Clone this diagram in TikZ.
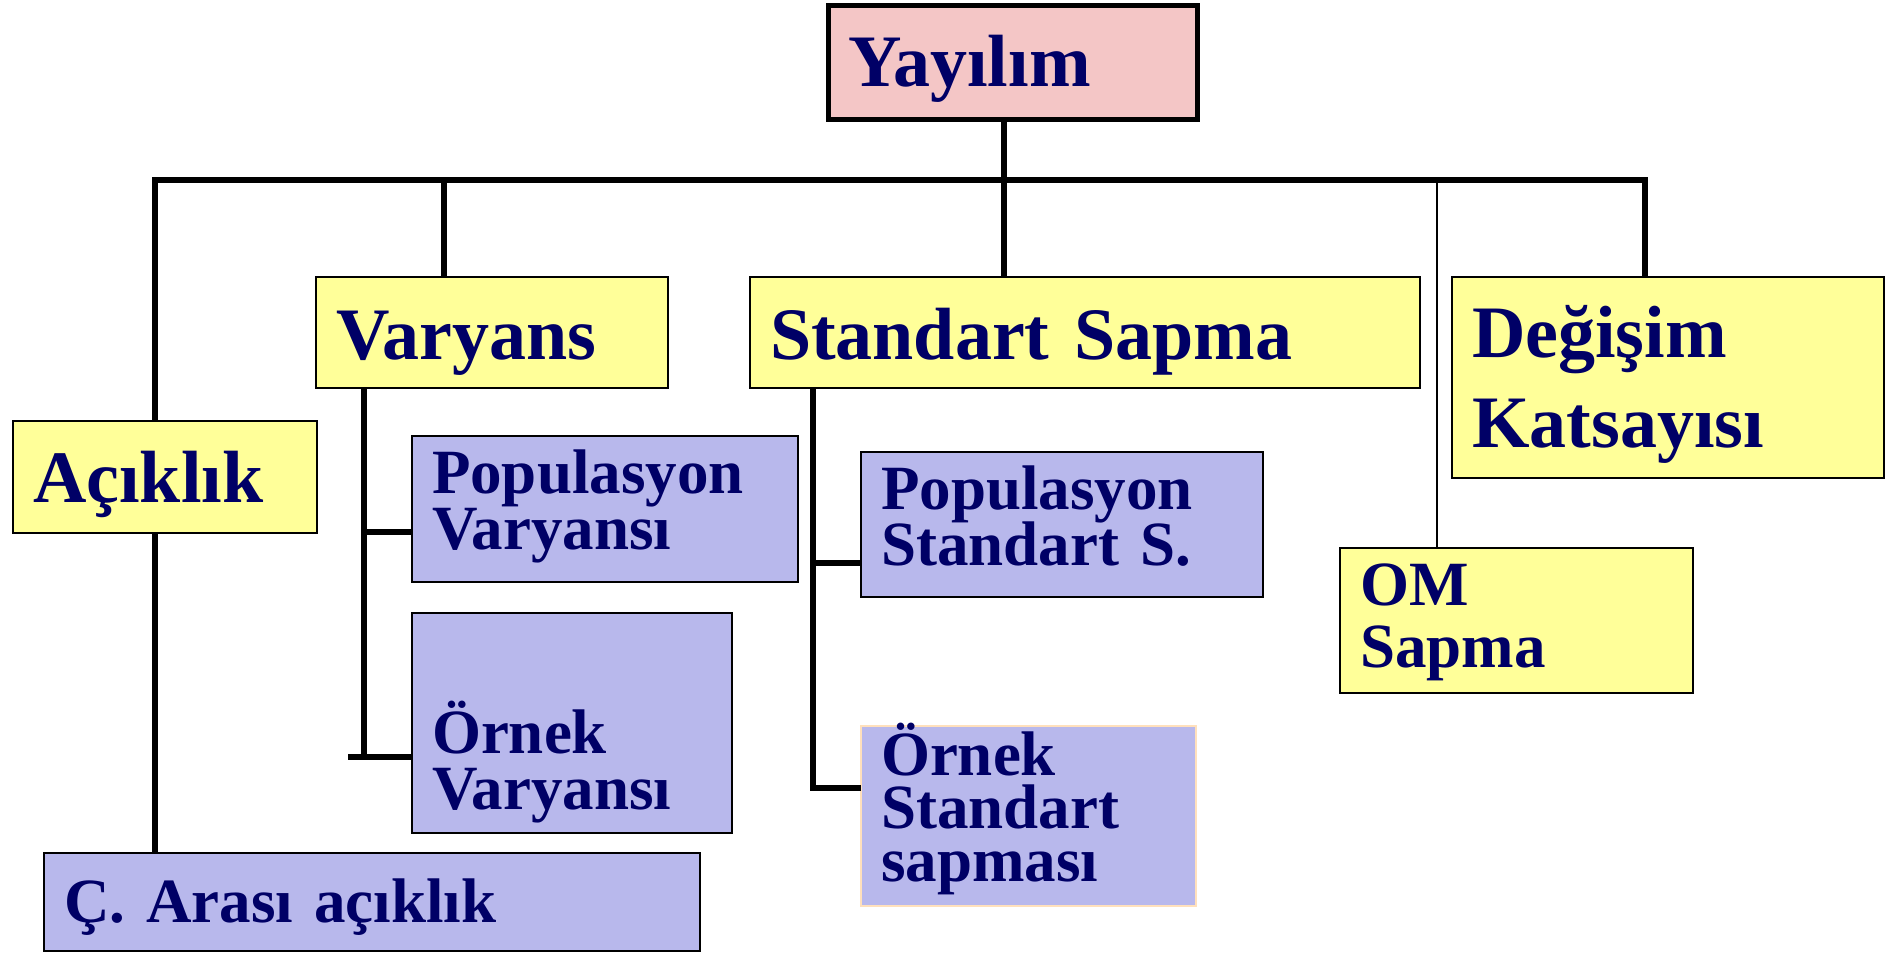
\documentclass[tikz,border=0pt]{standalone}
\usepackage{fontspec}
\setmainfont{Liberation Serif}
\usepackage{tikz}
\frenchspacing

\definecolor{navytext}{HTML}{000066}
\definecolor{pinkfill}{HTML}{F4C6C6}
\definecolor{yellowfill}{HTML}{FFFF99}
\definecolor{lilacfill}{HTML}{B8B8EC}
\definecolor{peachline}{HTML}{FFE0BC}

\newcommand{\bigtxt}{\fontsize{37}{45}\selectfont\bfseries\lineskiplimit=-50pt}
\newcommand{\smalltxt}{\fontsize{31.5}{28}\selectfont\bfseries\lineskiplimit=-50pt}

\tikzset{
  box/.style={draw, line width=1.3pt, rectangle, anchor=north west, align=left,
    inner xsep=10pt, inner ysep=0pt, outer sep=0pt, text=navytext, font=\smalltxt},
  big/.style={font=\bigtxt},
  yel/.style={box, fill=yellowfill},
  lil/.style={box, fill=lilacfill},
  trunk/.style={line width=3.2pt},
}

\begin{document}
\begin{tikzpicture}[x=0.5pt, y=-0.5pt]
\path[fill=white, use as bounding box] (0,0) rectangle (1896,953);

\node[box, big, fill=pinkfill, line width=2.5pt, text width=164.5pt, text height=40.5pt, text depth=16.5pt] (yay) at (828,5) {Yayılım};
\node[yel, big, text width=156pt, text height=41pt, text depth=14.5pt] (var) at (316,277) {Varyans};
\node[yel, big, text width=315pt, text height=41pt, text depth=14.5pt] (ss) at (750,277) {Standart Sapma};
\node[yel, big, text width=196pt, text height=40pt, text depth=60.5pt] (dk) at (1452,277) {Değişim\\Katsayısı};
\node[yel, big, text width=132pt, text height=40.5pt, text depth=15.5pt] (ack) at (13,421) {Açıklık};
\node[lil, text width=173pt, text height=28.5pt, text depth=44.5pt] (pv) at (412,436) {Populasyon\\Varyansı};
\node[lil, text width=140pt, text height=70pt, text depth=40pt] (ov) at (412,613) {Örnek\\Varyansı};
\node[lil, text width=181pt, text height=28.5pt, text depth=44pt] (ps) at (861,452) {Populasyon\\Standart S.};
\node[lil, draw=peachline, font={\fontsize{31.5}{26.5}\selectfont\bfseries\lineskiplimit=-50pt}, text width=147.5pt, text height=24.5pt, text depth=65.5pt] (os) at (861,726) {Örnek\\Standart\\sapması};
\node[yel, font={\fontsize{31.5}{31}\selectfont\bfseries\lineskiplimit=-50pt}, text width=156.5pt, text height=28.5pt, text depth=44pt] (om) at (1340,548) {OM\\Sapma};
\node[lil, text width=308pt, text height=34.5pt, text depth=14.5pt] (ca) at (44,853) {Ç. Arası açıklık};

\coordinate (j1) at (155,180);
\coordinate (j2) at (444,180);
\coordinate (j3) at (1004,180);
\coordinate (j4) at (1437,180);
\coordinate (j5) at (1645,180);
\coordinate (v1) at (364,532);
\coordinate (v2) at (364,757);
\coordinate (v3) at (348,757);
\coordinate (s1) at (813,563);
\coordinate (s2) at (813,788);

\draw[trunk] (j1 |- ack.north) -- (j1) -- (j5) -- (j5 |- dk.north);
\draw[trunk] (j2) -- (j2 |- var.north);
\draw[trunk] (yay.south -| j3) -- (j3 |- ss.north);
\draw[line width=1.3pt] (j4) -- (j4 |- om.north);
\draw[trunk] (j1 |- ack.south) -- (j1 |- ca.north);
\draw[trunk] (v2 |- var.south) -- (v2);
\draw[trunk] (v1) -- (v1 -| pv.west);
\draw[trunk] (v3) -- (v3 -| ov.west);
\draw[trunk] (s2 |- ss.south) -- (s2) -- (s2 -| os.west);
\draw[trunk] (s1) -- (s1 -| ps.west);
\end{tikzpicture}
\end{document}
